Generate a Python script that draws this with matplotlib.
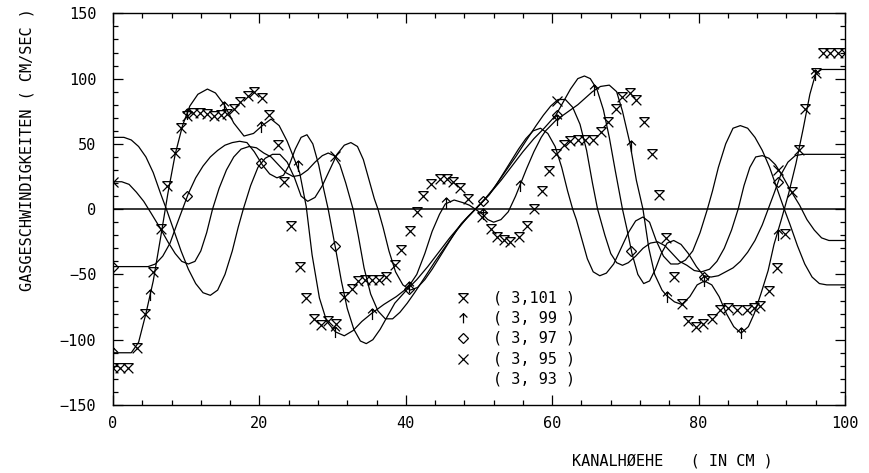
import matplotlib
matplotlib.use("Agg")
import matplotlib.pyplot as plt
from matplotlib.path import Path

# --- Messpunkte (3,101): nur Symbole
x101 = [0, 1, 2, 3.3, 4.4, 5.5, 6.5, 7.4, 8.5, 9.3, 10.1, 11.0, 11.9, 12.9, 13.8, 14.7,
        15.6, 16.5, 17.4, 18.4, 19.3, 20.4, 21.3, 22.5, 23.4, 24.3, 25.5, 26.4, 27.5, 28.4,
        29.4, 30.5, 31.6, 32.6, 33.5, 34.4, 35.4, 36.3, 37.3, 38.5, 39.4, 40.6, 41.5, 42.4,
        43.5, 44.7, 45.6, 46.5, 47.4, 48.5, 50.4, 51.6, 52.5, 53.4, 54.3, 55.5, 56.6, 57.5,
        58.6, 59.6, 60.5, 61.6, 62.5, 63.5, 64.5, 65.6, 66.7, 67.6, 68.7, 69.6, 70.6, 71.5,
        72.6, 73.7, 74.6, 75.6, 76.7, 77.7, 78.6, 79.7, 80.6, 81.8, 82.9, 84.0, 85.2, 86.6,
        87.6, 88.4, 89.6, 90.7, 91.8, 92.8, 93.7, 94.6, 96.0, 97, 98, 99, 100]
v101 = [-122, -122, -122, -106, -80, -48, -15, 18, 43, 62, 71, 74, 74, 73, 71, 72,
        73, 77, 82, 87, 90, 85, 72, 49, 21, -13, -44, -68, -84, -89,
        -86, -88, -67, -61, -55, -54, -54, -54, -52, -43, -31, -17, -2, 10,
        19, 23, 23, 21, 16, 8, -6, -15, -21, -24, -25, -21, -13, 0,
        14, 29, 42, 49, 52, 53, 53, 53, 59, 67, 77, 86, 89, 84,
        67, 42, 11, -22, -52, -73, -86, -90, -88, -84, -77, -76, -77, -77,
        -76, -74, -63, -45, -19, 13, 45, 77, 104, 120, 120, 120, 120]

# --- (3,99)
x99 = [0, 2.5, 3.5, 4.5, 5.5, 6.5, 7.5, 8.5, 9.5, 10.5, 11.6, 12.9, 14, 15.2, 16.5, 17.9,
       19.2, 20.4, 21.6, 22.7, 23.8, 24.8, 25.5, 26.4, 27.2, 28.2, 29.2, 30.4, 31.6, 32.8,
       34, 35.3, 37, 38.7, 40.3, 41.5, 42.6, 43.6, 44.6, 45.4, 46.6, 47.8, 48.7, 49.5,
       50.5, 51.2, 52, 53, 54, 55, 55.5, 56.5, 57.5, 58.5, 59.1, 60.5, 62, 63.5, 64.5, 65.5,
       66.6, 67.8, 68.8, 69.6, 70.6, 71.5, 72.4, 73.2, 74, 75, 75.6, 76.7, 77.7, 78.8, 79.8,
       80.8, 81.8, 82.8, 83.8, 84.8, 85.8, 86.8, 87.6, 88.5, 89.5, 90.3, 91.3, 92.3, 93.3,
       94.3, 95.2, 96, 96.8, 100]
v99 = [-110, -110, -102, -80, -55, -22, 12, 42, 64, 79, 88, 92, 89, 80, 66, 56,
       58, 64, 69, 64, 52, 38, 28, 2, -35, -68, -86, -94, -97, -93,
       -86, -80, -73, -67, -60, -50, -34, -17, -4, 4, 7, 5, 3, 0,
       -4, -8, -10, -8, -2, 10, 17, 31, 44, 55, 60, 68, 74, 80, 85, 90,
       94, 95, 90, 75, 51, 22, 0, -30, -50, -62, -66, -71, -73, -67, -58,
       -55, -58, -67, -80, -90, -95, -90, -80, -65, -47, -27, -8, 12, 35,
       62, 88, 104, 107, 107]

# --- (3,97)
x97 = [0, 4.8, 5.8, 6.8, 7.8, 8.7, 9.5, 10.3, 11.3, 12.3, 13.3, 14.3, 15.3, 16.3, 17.3,
       18.3, 19.3, 20.4, 21.4, 22.4, 23.3, 24.1, 24.9, 25.7, 26.5, 27.3, 28.1, 28.8, 29.4,
       30.4, 31.2, 32, 32.9, 33.8, 34.6, 35.5, 36.5, 37.5, 38.5, 40.1, 41.5, 43, 44.5, 46,
       47.5, 48.5, 49.5,
       50.5, 51.5, 53, 54.5, 56, 57.5, 58.9, 60.5, 61.5, 62.5, 63.5, 64.4, 65.2, 66.1, 67,
       67.8, 68.6, 69.6, 70.2, 70.9, 71.7, 72.5, 73.3, 74.1, 74.9, 75.7, 76.6, 77.6, 78.6,
       79.7, 80.7, 81.7, 82.7, 83.7, 84.7, 85.7, 86.7, 87.7, 88.7, 89.5, 90.3, 91.2, 92.2,
       93.2, 94.2, 100]
v97 = [-44, -44, -42, -36, -26, -12, 0, 12, 24, 33, 40, 45, 49, 51, 52,
       51, 44, 34, 27, 24, 26, 34, 46, 55, 57, 50, 34, 15, 0,
       -30, -55, -76, -92, -101, -103, -100, -92, -82, -72, -62, -54, -44, -33, -22,
       -12, -6, 0,
       6, 12, 22, 33, 44, 54, 62, 72, 82, 92, 100, 102, 100, 92, 76,
       55, 30, 0, -15, -34, -50, -57, -55, -46, -34, -26, -24, -27, -34,
       -44, -51, -52, -51, -48, -45, -40, -33, -24, -12, 0, 12, 26, 36,
       41, 42, 42]

# --- (3,95)
x95 = [0, 1.2, 2.2, 3.2, 4.2, 5.2, 6.5, 7.5, 8.5, 9.4, 10.3, 11.2, 12, 12.8, 13.6, 14.5,
       15.5, 16.5, 17.5, 18.6, 19.6, 20.6, 21.6, 22.6, 23.6, 24.6, 25.6, 26.6, 27.6, 28.6,
       29.4, 30.2, 31, 31.8, 32.4, 32.8, 33.5, 34.3, 35.2, 36.2, 37.2, 38.2, 39.2, 40.2,
       41.2, 42.5, 44, 45.5, 47, 48.3, 49.5,
       50.7, 52, 53.5, 55, 56.5, 57.8, 58.8, 59.8, 60.8, 61.8, 62.8, 63.8, 64.7, 65.5, 66.2,
       66.6, 67.2, 68, 68.8, 69.6, 70.4, 71.4, 72.4, 73.4, 74.4, 75.4, 76.4, 77.4, 78.4,
       79.4, 80.4, 81.5, 82.5, 83.5, 84.5, 85.4, 86.2, 87, 87.8, 88.7, 89.6, 90.5, 91.5,
       92.5, 93.8, 94.8, 95.8, 96.8, 97.8, 100]
v95 = [21, 21, 19, 13, 6, -3, -15, -25, -34, -40, -42, -40, -32, -18, 0, 16,
       30, 40, 46, 48, 47, 43, 40, 34, 28, 25, 26, 30, 36, 41,
       43, 41, 34, 20, 8, 0, -20, -45, -65, -78, -84, -84, -79, -72,
       -64, -53, -40, -28, -16, -7, 0,
       7, 16, 28, 40, 53, 64, 72, 79, 84, 84, 78, 65, 45, 20, 0,
       -8, -20, -34, -41, -43, -41, -36, -30, -26, -25, -28, -34, -40, -43,
       -47, -48, -46, -40, -30, -16, 0, 18, 32, 40, 41, 39, 34, 25,
       15, 3, -8, -16, -22, -24, -24]

# --- (3,93)
x93 = [0, 1.5, 2.5, 3.5, 4.5, 5.5, 6.5, 7.3, 8.3, 9.3, 10.3, 11.3, 12.3, 13.3, 14.3,
       15.3, 16.3, 17.1, 17.8, 18.8, 19.8, 20.8, 21.8, 22.8, 23.8, 24.8, 25.7, 26.6, 27.6,
       28.6, 29.6, 30.6, 31.6, 32.5, 33.4, 34.2, 35, 35.7, 36.2, 36.9, 37.7, 38.6, 39.6,
       40.6, 41.6, 42.6, 43.6, 44.6, 45.6, 46.6, 47.6, 48.6, 49.5,
       50.4, 51.4, 52.4, 53.4, 54.4, 55.4, 56.4, 57.4, 58.4, 59.4, 60.4, 61.3, 62.1, 62.8,
       63.3, 64, 64.8, 65.6, 66.5, 67.4, 68.4, 69.4, 70.4, 71.4, 72.4, 73.3, 74.2, 75.2,
       76.2, 77.2, 78.2, 79.2, 80.2, 81.2, 81.9, 82.7, 83.7, 84.7, 85.7, 86.7, 87.7, 88.7,
       89.7, 90.7, 91.7, 92.5, 93.5, 94.5, 95.5, 96.5, 97.5, 100]
v93 = [55, 55, 53, 48, 40, 28, 12, 0, -16, -32, -46, -57, -64, -66, -62,
       -50, -32, -14, 0, 18, 32, 39, 42, 42, 36, 24, 10, 6, 9,
       18, 30, 42, 49, 51, 48, 38, 22, 8, 0, -14, -32, -48, -58,
       -62, -60, -54, -46, -37, -28, -19, -11, -5, 0,
       5, 11, 19, 28, 37, 46, 54, 60, 62, 58, 48, 32, 14, 0,
       -8, -22, -38, -48, -51, -49, -42, -30, -18, -9, -6, -10, -24, -36,
       -42, -42, -39, -32, -18, 0, 14, 32, 50, 62, 64, 62, 55, 45,
       32, 16, 0, -12, -28, -42, -52, -57, -58, -58]

# --- Symbolpositionen auf den Kurven
arrow_x = [0, 5.05, 10.1, 15.15, 20.2, 25.25, 30.3, 35.35, 40.4, 45.45, 50.5, 55.55,
           60.6, 65.65, 70.7, 75.75, 80.8, 85.85, 90.9, 95.95]
arrow_v = [-110, -66, 73, 78, 63, 33, -94, -80, -60, 5, -4, 18,
           68, 91, 48, -67, -55, -95, -20, 103]
diam_x = [0, 10.1, 20.2, 30.3, 40.4, 50.5, 60.6, 70.7, 80.8, 90.9]
diam_v = [-44, 10, 35, -28, -61, 6, 72, -32, -52, 21]
cross_x = [0, 30.3, 60.6, 90.9]
cross_v = [21, 41, 83, 30]

legend_labels = ["( 3,101 )", "( 3, 99 )", "( 3, 97 )", "( 3, 95 )", "( 3, 93 )"]

M, L = Path.MOVETO, Path.LINETO
xbar = Path([(-1, -1), (1, 1), (-1, 1), (1, -1), (-1, 1), (1, 1)], [M, L, M, L, M, L])
arrow = Path([(0, -1), (0, 1), (-0.8, 0.2), (0, 1), (0.8, 0.2)], [M, L, M, L, L])

mono = "DejaVu Sans Mono"
plt.rcParams["font.family"] = mono

fig = plt.figure(figsize=(8.69, 4.73), dpi=100)
ax = fig.add_axes([0.130, 0.1438, 0.8424, 0.828])

lw = 0.9
for xs, vs in [(x99, v99), (x97, v97), (x95, v95), (x93, v93)]:
    ax.plot(xs, vs, color="black", lw=lw)
ax.axhline(0, color="black", lw=1.1)

mk = dict(linestyle="none", color="black", mfc="none", mew=0.9)
ax.plot(x101, v101, marker=xbar, ms=7, **mk)
ax.plot(arrow_x, arrow_v, marker=arrow, ms=8, **mk)
ax.plot(diam_x, diam_v, marker="D", ms=5, **mk)
ax.plot(cross_x, cross_v, marker="x", ms=7, **mk)

ax.set_xlim(0, 100)
ax.set_ylim(-150, 150)
ax.set_xticks(range(0, 101, 20))
ax.set_xticks(range(0, 101, 4), minor=True)
ax.set_yticks(range(-150, 151, 50))
ax.set_yticks(range(-150, 151, 10), minor=True)
ax.set_yticklabels([str(t).replace("-", "\u2212") for t in range(-150, 151, 50)])
ax.tick_params(which="both", direction="in", top=True, right=True, width=0.9,
               labelsize=11, colors="black")
ax.tick_params(which="major", length=7, pad=8)
ax.tick_params(which="minor", length=3.5)
ax.tick_params(axis="y", which="major", pad=12)
for s in ax.spines.values():
    s.set_linewidth(1.0)

# Legende
syms = [xbar, arrow, "D", "x", None]
for i, (lab, sym) in enumerate(zip(legend_labels, syms)):
    fy = 0.273 - i * 0.0515
    if sym is not None:
        ax.plot([0.478], [fy], transform=ax.transAxes, marker=sym,
                ms=7 if sym != "D" else 5, clip_on=False, **mk)
    ax.text(0.519, fy, lab, transform=ax.transAxes, fontsize=11,
            va="center", ha="left")

fig.text(572 / 869, 1 - 461 / 473, "KANALH\u00d8EHE   ( IN CM )", fontsize=11,
         ha="left", va="center")
fig.text(27 / 869, 1 - 150 / 473, "GASGESCHWINDIGKEITEN ( CM/SEC )", fontsize=11,
         rotation=90, ha="center", va="center")

fig.savefig("out.png", dpi=100, facecolor="white")
